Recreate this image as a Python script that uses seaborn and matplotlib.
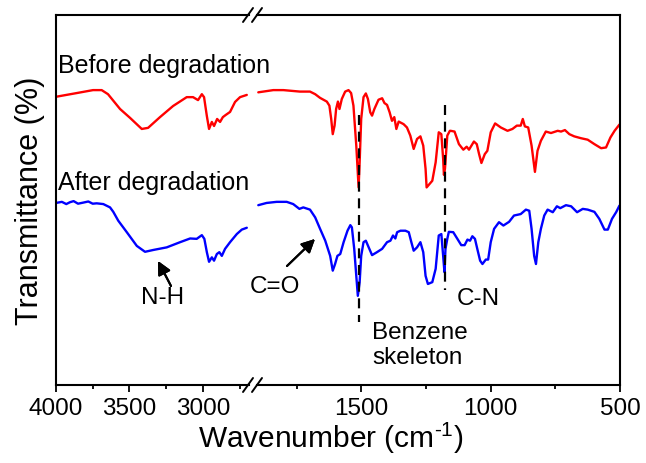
import seaborn as sns
import matplotlib.pyplot as plt
from matplotlib.lines import Line2D

# 데이터, 왼쪽 구간 4000-2680, 오른쪽 구간 1910-500
before_hi_wn = [4000, 3859, 3748, 3689, 3646, 3564, 3496, 3416, 3373, 3292, 3203, 3110, 3067,
                3033, 3007, 2992, 2973, 2958, 2939, 2924, 2903, 2883, 2864, 2844, 2815, 2781,
                2747, 2701]
before_hi_t = [77.9, 78.9, 79.7, 79.7, 78.6, 74.6, 72.2, 69.2, 69.5, 72.4, 75.4, 77.8, 77.8,
               77.0, 78.6, 77.8, 72.7, 69.2, 71.1, 70.0, 71.9, 71.1, 72.4, 73.0, 73.8, 76.5,
               77.8, 78.4]

before_lo_wn = [1899, 1841, 1802, 1738, 1699, 1679, 1660, 1634, 1624, 1617, 1611, 1604, 1598,
                1591, 1585, 1576, 1563, 1550, 1540, 1531, 1520, 1511, 1507, 1501, 1492, 1483,
                1475, 1466, 1459, 1450, 1434, 1420, 1411, 1401, 1391, 1382, 1373, 1365, 1356,
                1337, 1324, 1311, 1298, 1285, 1272, 1261, 1252, 1248, 1226, 1213, 1201, 1191,
                1184, 1181, 1177, 1168, 1158, 1155, 1140, 1123, 1106, 1093, 1084, 1065, 1054,
                1045, 1036, 1023, 1013, 1000, 983, 961, 935, 916, 899, 884, 876, 868, 855, 842,
                829, 819, 806, 787, 767, 741, 728, 713, 696, 677, 651, 625, 599, 573, 554, 537,
                521, 502]
before_lo_t = [79.1, 79.7, 79.7, 79.3, 79.3, 78.6, 77.6, 76.6, 75.5, 71.9, 67.8, 70.1, 74.6,
               76.6, 74.6, 77.3, 79.3, 79.7, 78.9, 75.5, 64.7, 53.4, 60.2, 71.9, 77.8, 78.8,
               77.3, 73.7, 72.8, 74.6, 77.1, 77.5, 76.2, 75.7, 73.7, 71.4, 72.4, 69.2, 71.2,
               70.5, 69.6, 67.4, 63.8, 66.5, 67.2, 64.7, 58.4, 53.4, 55.2, 60.2, 68.3, 67.8,
               61.1, 56.8, 58.4, 67.4, 68.7, 68.7, 68.5, 65.1, 63.6, 64.4, 63.6, 65.8, 65.1,
               62.4, 60.0, 62.4, 63.3, 68.3, 70.7, 69.6, 68.7, 69.2, 70.1, 70.1, 71.9, 69.9,
               69.6, 64.7, 57.6, 63.3, 66.0, 68.5, 68.1, 68.7, 68.5, 68.9, 67.8, 67.2, 66.7,
               66.3, 65.1, 64.0, 64.2, 66.9, 68.7, 70.4]

after_hi_wn = [4000, 3960, 3930, 3905, 3880, 3850, 3814, 3780, 3750, 3723, 3678, 3632, 3610,
               3576, 3518, 3450, 3394, 3337, 3246, 3155, 3087, 3042, 3007, 2990, 2973, 2958,
               2939, 2924, 2905, 2888, 2871, 2849, 2815, 2769, 2735, 2701]
after_hi_t = [49.2, 49.5, 48.9, 49.4, 49.7, 49.0, 49.3, 49.6, 49.0, 49.1, 48.9, 48.0, 46.8,
              44.4, 41.3, 37.6, 36.0, 36.5, 37.2, 38.6, 39.6, 39.5, 40.5, 39.5, 35.9, 33.3,
              34.5, 33.6, 35.4, 35.9, 34.9, 36.8, 38.6, 40.8, 42.0, 42.5]

after_lo_wn = [1899, 1867, 1828, 1789, 1764, 1740, 1725, 1699, 1679, 1660, 1640, 1621, 1611,
               1602, 1593, 1582, 1569, 1554, 1543, 1537, 1528, 1520, 1514, 1507, 1501, 1492,
               1483, 1472, 1459, 1440, 1420, 1401, 1388, 1378, 1369, 1362, 1349, 1330, 1317,
               1307, 1298, 1285, 1272, 1261, 1252, 1243, 1226, 1213, 1201, 1191, 1184, 1179,
               1175, 1168, 1162, 1145, 1129, 1114, 1101, 1090, 1080, 1071, 1061, 1052, 1041,
               1032, 1019, 1010, 1000, 987, 968, 951, 929, 910, 884, 864, 851, 842, 832, 825,
               816, 806, 793, 780, 760, 744, 731, 709, 689, 666, 644, 625, 599, 580, 560, 547,
               531, 515, 502]
after_lo_t = [48.6, 49.2, 49.5, 49.5, 48.9, 47.6, 48.0, 47.4, 45.3, 42.2, 39.0, 34.9, 30.9,
              32.7, 34.9, 35.4, 38.6, 41.7, 43.2, 42.6, 36.8, 29.5, 24.1, 27.8, 34.9, 38.6,
              39.0, 37.2, 35.1, 35.9, 36.8, 38.6, 39.0, 40.4, 39.6, 41.3, 41.7, 41.7, 41.3,
              38.6, 36.3, 37.2, 38.6, 35.9, 29.5, 27.3, 27.8, 31.4, 40.4, 40.8, 34.9, 30.5,
              36.8, 39.5, 41.4, 41.3, 39.5, 37.8, 37.8, 39.3, 39.0, 40.2, 39.5, 36.8, 33.6,
              32.7, 33.9, 33.9, 38.6, 42.2, 44.0, 43.1, 44.1, 45.8, 46.2, 47.4, 47.1, 42.2,
              34.9, 32.7, 38.6, 42.2, 45.8, 47.4, 46.7, 48.3, 47.8, 48.6, 48.3, 46.7, 47.6,
              47.4, 46.8, 44.9, 42.0, 42.0, 44.9, 46.7, 48.5]

# 점선 (벤젠 골격, C-N)
mark_wn = [1511, 1178]
mark_top = [73.0, 75.7]
mark_bottom = [17.0, 25.7]

sns.set_style("ticks")
plt.rcParams['font.family'] = ['Liberation Sans', 'DejaVu Sans']
plt.rcParams['mathtext.fontset'] = 'custom'
plt.rcParams['mathtext.rm'] = 'Liberation Sans'
plt.rcParams['mathtext.default'] = 'regular'
plt.rcParams['text.color'] = 'black'
plt.rcParams['axes.labelcolor'] = 'black'
plt.rcParams['xtick.color'] = 'black'

W, H = 646, 464
fig = plt.figure(figsize=(W / 100, H / 100), dpi=100)
ax1 = fig.add_axes([56 / W, 78 / H, 193 / W, 370 / H])
ax2 = fig.add_axes([257 / W, 78 / H, 363 / W, 370 / H])

sns.lineplot(x=before_hi_wn, y=before_hi_t, ax=ax1, color="red", lw=1.7, estimator=None)
sns.lineplot(x=after_hi_wn, y=after_hi_t, ax=ax1, color="blue", lw=1.7, estimator=None)
sns.lineplot(x=before_lo_wn, y=before_lo_t, ax=ax2, color="red", lw=1.7, estimator=None)
sns.lineplot(x=after_lo_wn, y=after_lo_t, ax=ax2, color="blue", lw=1.7, estimator=None)

for x, y0, y1 in zip(mark_wn, mark_top, mark_bottom):
    ax2.plot([x, x], [y0, y1], color="black", lw=1.6, ls=(0, (4.5, 3)))

ax1.set_xlim(4000, 2686)
ax2.set_xlim(1904, 500)
for ax in (ax1, ax2):
    ax.set_ylim(0, 100)
    ax.set_yticks([])
    ax.set_xlabel("")
    for s in ax.spines.values():
        s.set_linewidth(1.5)
        s.set_color("black")
    ax.tick_params(axis="x", which="major", direction="out", length=5, width=1.3,
                   labelsize=17.5, pad=4, top=False)
    ax.tick_params(axis="x", which="minor", direction="out", length=3, width=1.3, top=False)
ax1.spines["right"].set_visible(False)
ax2.spines["left"].set_visible(False)
ax2.set_ylabel("")

ax1.set_xticks([4000, 3500, 3000])
ax1.set_xticks([3750, 3250, 2750], minor=True)
ax2.set_xticks([1500, 1000, 500])
ax2.set_xticks([1750, 1250, 750], minor=True)

ax1.set_ylabel("Transmittance (%)", fontsize=22, labelpad=8)
fig.text(331 / W, 1 - 438 / H, r"Wavenumber (cm$^{\text{-1}}$)", fontsize=21.5,
         ha="center", va="center")

# 구간 끊김 표시 //
for yb in (16, 386):
    for xc in (248, 257):
        fig.add_artist(Line2D([(xc - 5) / W, (xc + 5) / W],
                              [1 - (yb + 7) / H, 1 - (yb - 7) / H],
                              transform=fig.transFigure, color="black", lw=1.4))

# 텍스트 표시
fig.text(58 / W, 1 - 66 / H, "Before degradation", fontsize=18, va="center")
fig.text(58 / W, 1 - 183 / H, "After degradation", fontsize=18, va="center")
fig.text(163 / W, 1 - 298 / H, "N-H", fontsize=17.5, ha="center", va="center")
fig.text(275 / W, 1 - 287 / H, "C=O", fontsize=17.5, ha="center", va="center")
fig.text(457 / W, 1 - 299 / H, "C-N", fontsize=17.5, va="center")
fig.text(372 / W, 1 - 333 / H, "Benzene", fontsize=17.5, va="center")
fig.text(372 / W, 1 - 358 / H, "skeleton", fontsize=17.5, va="center")

arrow_style = dict(arrowstyle="-|>", color="black", lw=1.5, mutation_scale=20,
                   shrinkA=0, shrinkB=0)
fig.add_artist(plt.annotate("", xy=(158 / W, 1 - 262 / H), xytext=(171 / W, 1 - 287 / H),
                            xycoords="figure fraction", arrowprops=arrow_style))
fig.add_artist(plt.annotate("", xy=(315 / W, 1 - 240 / H), xytext=(287 / W, 1 - 267 / H),
                            xycoords="figure fraction", arrowprops=arrow_style))

plt.savefig("out.png", dpi=100)
